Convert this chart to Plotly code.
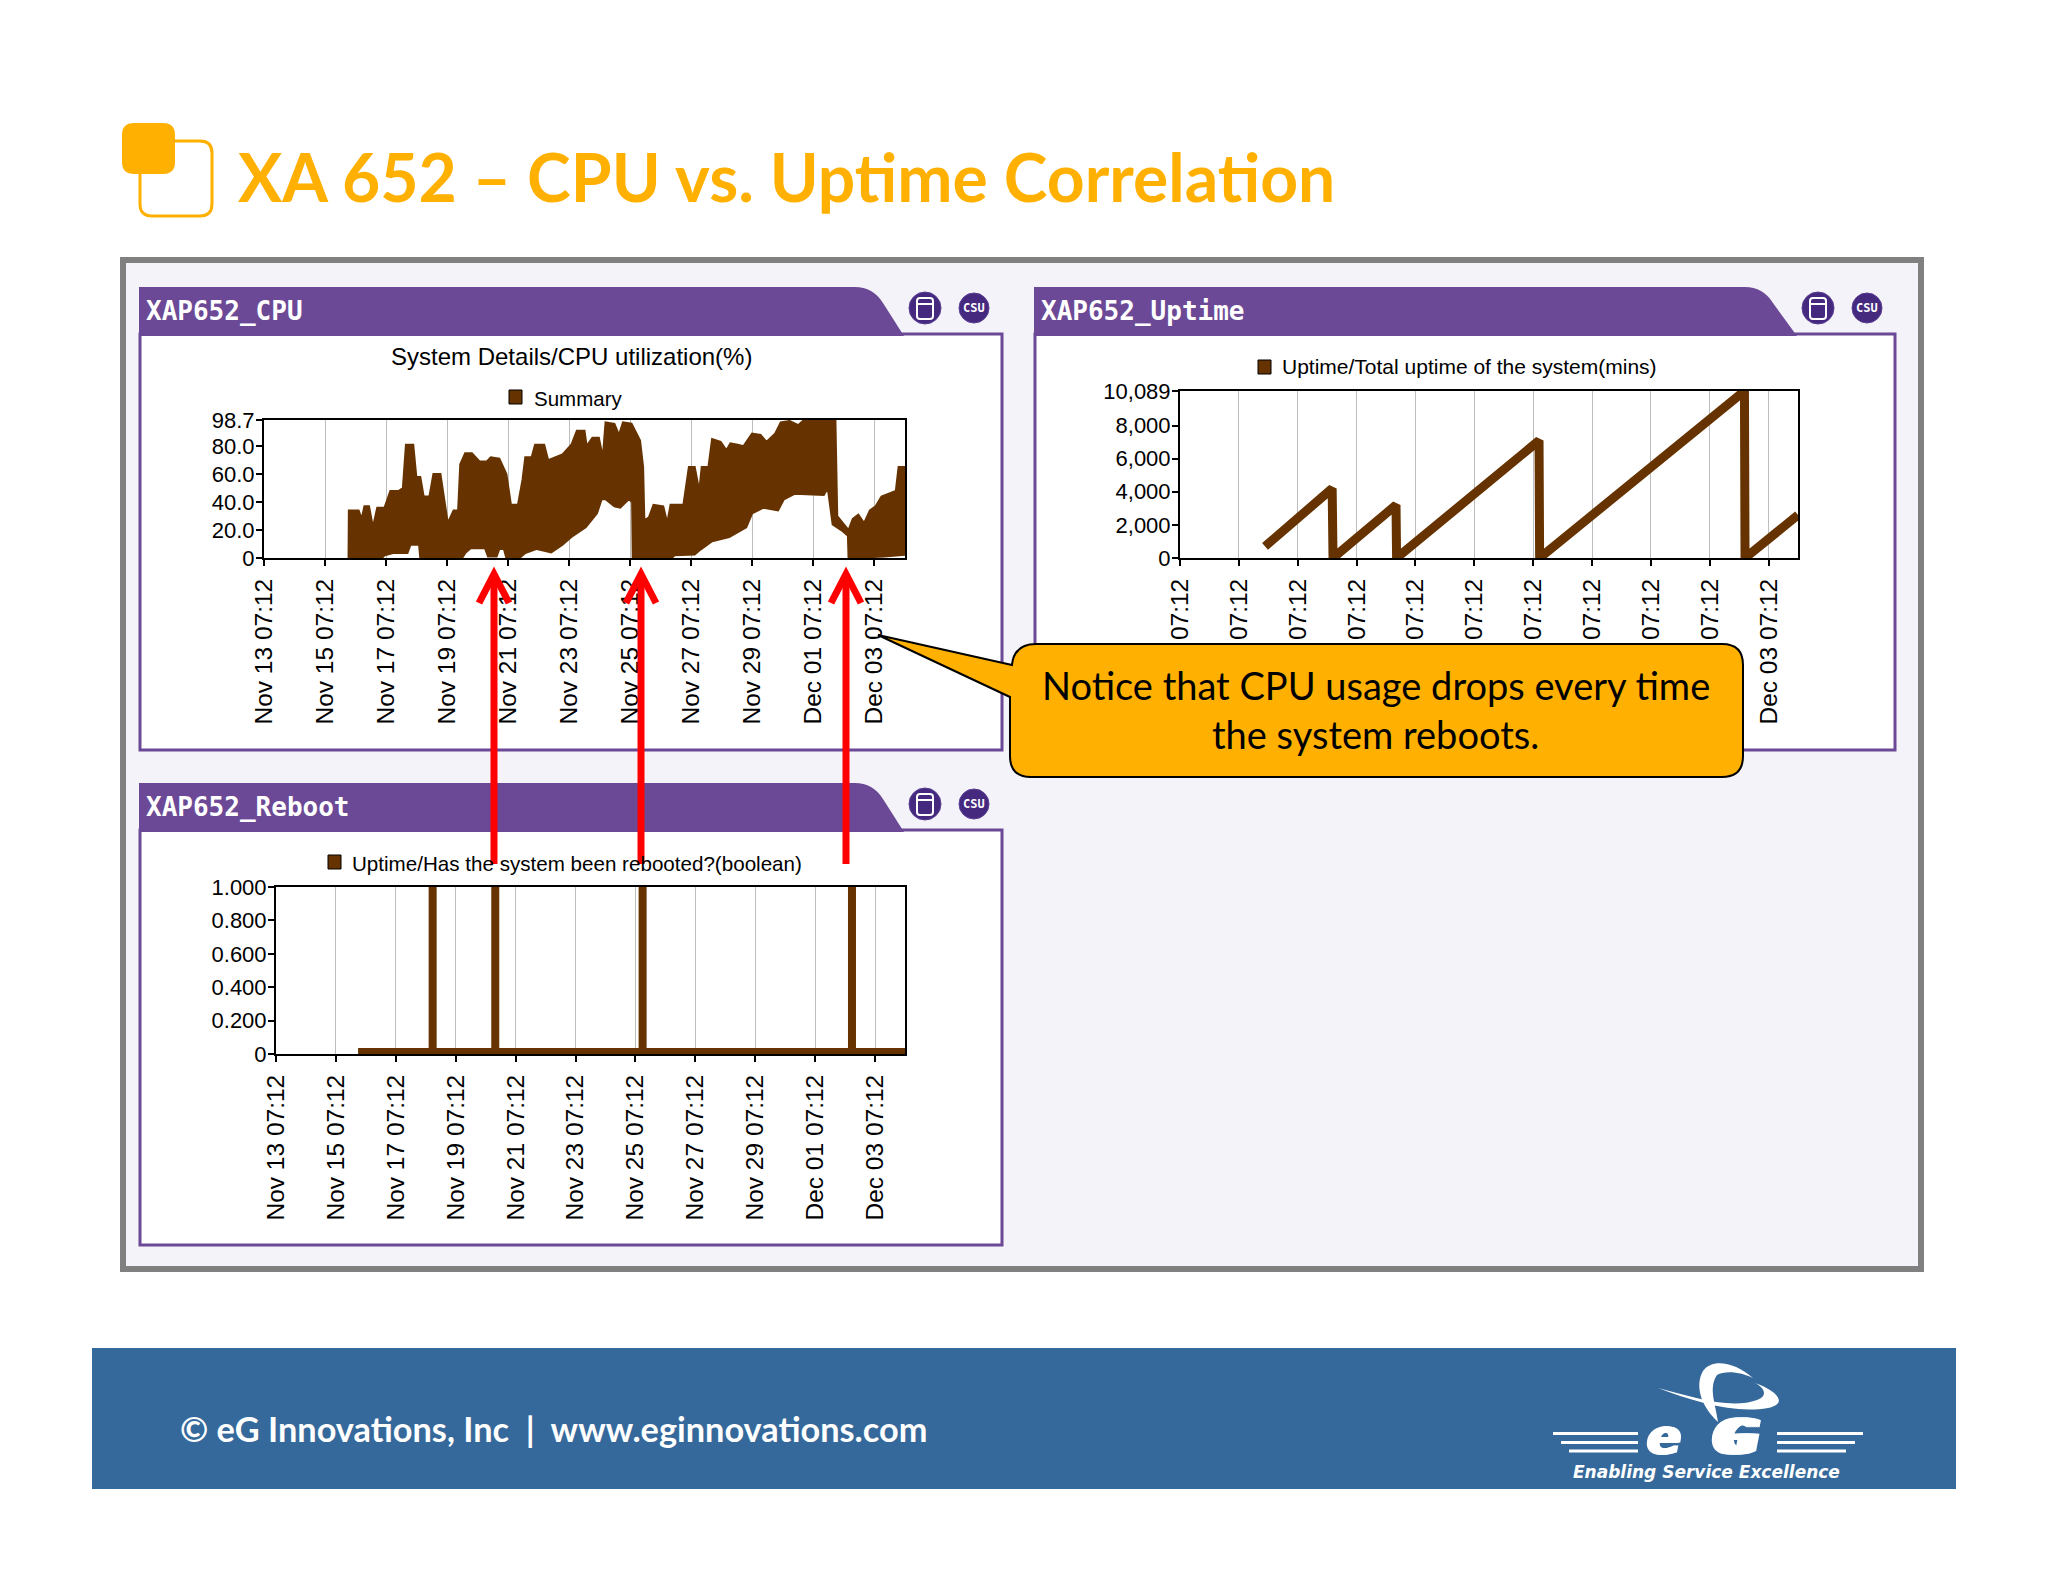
import plotly.graph_objects as go
import pandas as pd

W, H = 2048, 1582
# the page keeps its 8px body margin, so the figure is 16px smaller and shifted
PAGE_MARGIN = 8
FIG_W, FIG_H = W - 2 * PAGE_MARGIN, H - 2 * PAGE_MARGIN
BROWN = "#663300"
PURPLE = "#6C4996"
ICON = "#45297F"
ORANGE = "#FFB000"
RED = "#FF0000"
BAND = "#36699B"

START = pd.Timestamp("2012-11-13 07:12")
tick_dates = ["2012-11-13 07:12", "2012-11-15 07:12", "2012-11-17 07:12", "2012-11-19 07:12",
              "2012-11-21 07:12", "2012-11-23 07:12", "2012-11-25 07:12", "2012-11-27 07:12",
              "2012-11-29 07:12", "2012-12-01 07:12", "2012-12-03 07:12"]
tick_labels = ["Nov 13 07:12", "Nov 15 07:12", "Nov 17 07:12", "Nov 19 07:12",
               "Nov 21 07:12", "Nov 23 07:12", "Nov 25 07:12", "Nov 27 07:12",
               "Nov 29 07:12", "Dec 01 07:12", "Dec 03 07:12"]

# days after Nov 13 07:12
cpu_high_days = [2.77, 2.78, 3.10, 3.20, 3.29, 3.44, 3.57, 3.71, 3.95, 4.14, 4.42, 4.55, 4.65, 4.89, 4.99,
                 5.12, 5.23, 5.42, 5.55, 5.78, 6.02, 6.21, 6.36, 6.43, 6.59, 6.81, 7.06, 7.30, 7.43, 7.71,
                 7.94, 8.09, 8.32, 8.47, 8.56, 8.77, 8.88, 9.18, 9.31, 9.78, 10.07, 10.25, 10.50, 10.57,
                 10.76, 10.97, 11.10, 11.19, 11.48, 11.63, 11.76, 12.04, 12.32, 12.42, 12.46, 12.61, 12.76,
                 13.08, 13.21, 13.32, 13.74, 13.92, 14.11, 14.26, 14.34, 14.56, 14.68, 14.96, 15.15, 15.28,
                 15.52, 15.71, 15.99, 16.27, 16.46, 16.75, 16.93, 17.22, 17.50, 17.69, 18.72, 18.78, 19.15,
                 19.29, 19.47, 19.66, 19.85, 20.04, 20.23, 20.60, 20.70, 20.79, 21.0]
cpu_high = [0, 34, 34, 28, 37, 37, 22, 36, 36, 48, 48, 50, 81, 81, 58,
            58, 44, 44, 60, 60, 25, 34, 34, 67, 75, 75, 69, 69, 72, 71,
            60, 38, 38, 56, 72, 72, 81, 81, 70, 74, 81, 91, 91, 80,
            86, 86, 72, 97, 96, 88, 97, 96, 84, 65, 27, 29, 38,
            37, 25, 38, 38, 65, 65, 48, 65, 65, 85, 83, 77, 82,
            81, 80, 89, 88, 83, 89, 97, 98, 95, 98.7, 98.7, 30, 20,
            28, 31, 25, 34, 37, 44, 47, 48, 65, 65]
cpu_low_days = [2.77, 3.86, 3.95, 4.23, 4.70, 4.80, 5.08, 5.12, 6.49, 6.59, 6.77, 7.24, 7.34, 7.62, 7.71,
                7.86, 7.94, 8.37, 8.56, 8.94, 9.41, 9.78, 10.07, 10.54, 10.91, 11.06, 11.19, 11.48, 11.67,
                11.95, 12.06, 12.08, 13.36, 13.45, 14.11, 14.30, 14.68, 15.24, 15.80, 15.99, 16.37, 16.84,
                17.03, 17.40, 18.34, 18.47, 18.63, 18.91, 19.13, 19.15, 20.32, 21.0]
cpu_low = [0, 0, 2, 3.5, 3.5, 9.5, 9.5, 0, 0, 3.5, 7, 7, 1, 1, 6.5,
           6.5, 0, 0, 3.5, 6.5, 4, 9.5, 15, 22, 32, 42, 42, 37, 36,
           42, 40, 0, 0, 2, 2.5, 6, 12, 15, 22, 32, 36, 34,
           42, 46, 45, 50, 24, 20, 16, 0, 1, 2.4]

uptime_days = [2.89, 5.17, 5.20, 7.34, 7.36, 12.20, 12.22, 19.18, 19.20, 21.0]
uptime_mins = [700, 4200, 0, 3200, 0, 7100, 0, 10089, 0, 2600]

reboot_days = [2.74, 5.23, 5.23, 5.23, 7.32, 7.32, 7.32, 12.24, 12.24, 12.24, 19.23, 19.23, 19.23, 21.0]
reboot_vals = [0.012, 0.012, 1, 0.012, 0.012, 1, 0.012, 0.012, 1, 0.012, 0.012, 1, 0.012, 0.012]


def to_dates(days):
    return [START + pd.Timedelta(days=d) for d in days]


def fx(x):
    return (x - PAGE_MARGIN) / FIG_W


def fy(y):
    return 1 - (y - PAGE_MARGIN) / FIG_H


def pth(*parts):
    """path string in paper fractions, tuples are page pixels"""
    out = []
    for p in parts:
        out.append(f"{fx(p[0]):.5f},{fy(p[1]):.5f}" if isinstance(p, tuple) else p)
    return " ".join(out)


def rounded(x0, y0, x1, y1, r):
    return pth("M", (x0 + r, y0), "L", (x1 - r, y0), "Q", (x1, y0), (x1, y0 + r),
               "L", (x1, y1 - r), "Q", (x1, y1), (x1 - r, y1),
               "L", (x0 + r, y1), "Q", (x0, y1), (x0, y1 - r),
               "L", (x0, y0 + r), "Q", (x0, y0), (x0 + r, y0), "Z")


shapes = []
notes = []


def add_path(path, fill=None, line=None, width=0, layer="below"):
    shapes.append(dict(type="path", path=path, xref="paper", yref="paper", layer=layer,
                       fillcolor=fill or "rgba(0,0,0,0)",
                       line=dict(color=line or "rgba(0,0,0,0)", width=width)))


def add_rect(x0, y0, x1, y1, fill=None, line=None, width=0, layer="below"):
    shapes.append(dict(type="rect", xref="paper", yref="paper", layer=layer,
                       x0=fx(x0), x1=fx(x1), y0=fy(y0), y1=fy(y1),
                       fillcolor=fill or "rgba(0,0,0,0)",
                       line=dict(color=line or "rgba(0,0,0,0)", width=width)))


def add_text(x, y, text, size, color="black", font="Liberation Sans", anchor="left", shadow=None):
    fnt = dict(size=size, color=color, family=font)
    if shadow:
        fnt["shadow"] = shadow
    notes.append(dict(x=fx(x), y=fy(y), xref="paper", yref="paper", text=text,
                      showarrow=False, xanchor=anchor, yanchor="middle", font=fnt))


def add_panel(x0, y0, x1, y1, head_bottom, title, tab_start, tab_end):
    add_rect(x0, head_bottom - 2, x1, y1, fill="white", line=PURPLE, width=3)
    add_path(pth("M", (x0 - 1, y0), "L", (tab_start, y0), "Q", (tab_start + 18, y0), (tab_start + 28, y0 + 16),
                 "L", (tab_end, head_bottom), "L", (x0 - 1, head_bottom), "Z"), fill=PURPLE)
    add_text(x0 + 4, (y0 + head_bottom) / 2 - 1, f"<b>{title}</b>", 26, color="white", font="DejaVu Sans Mono")
    # the two small round buttons
    cx1, cx2, cy = tab_end + 21, tab_end + 70, y0 + 21
    shapes.append(dict(type="circle", xref="paper", yref="paper", layer="below", fillcolor=ICON,
                       x0=fx(cx1 - 16), x1=fx(cx1 + 16), y0=fy(cy - 16), y1=fy(cy + 16),
                       line=dict(color="#5A3E92", width=1)))
    add_path(rounded(cx1 - 8, cy - 10, cx1 + 8, cy + 11, 3), line="white", width=2)
    add_path(pth("M", (cx1 - 8, cy - 4), "L", (cx1 + 8, cy - 4)), line="white", width=2)
    shapes.append(dict(type="circle", xref="paper", yref="paper", layer="below", fillcolor=ICON,
                       x0=fx(cx2 - 15), x1=fx(cx2 + 15), y0=fy(cy - 15), y1=fy(cy + 15),
                       line=dict(color="#5A3E92", width=1)))
    add_text(cx2, cy, "<b>CSU</b>", 12, color="white", font="DejaVu Sans Mono", anchor="center")


def add_legend(x0, y0, text_x, text_y, text, size):
    add_rect(x0, y0, x0 + 13, y0 + 14, fill=BROWN, line="black", width=1)
    add_text(text_x, text_y, text, size)


def add_arrow(x, tip, tail):
    add_path(pth("M", (x, tail), "L", (x, tip + 4)), line=RED, width=7, layer="above")
    add_path(pth("M", (x - 15, tip + 33), "L", (x, tip + 4), "L", (x + 15, tip + 33)),
             line=RED, width=7, layer="above")


fig = go.Figure()

# cpu band, low edge then high edge filled down to it
fig.add_trace(go.Scatter(x=to_dates(cpu_low_days), y=cpu_low, mode="lines", showlegend=False,
                         line=dict(color=BROWN, width=2), xaxis="x", yaxis="y"))
fig.add_trace(go.Scatter(x=to_dates(cpu_high_days), y=cpu_high, mode="lines", name="Summary", showlegend=False,
                         line=dict(color=BROWN, width=2), fill="tonexty", fillcolor=BROWN,
                         xaxis="x", yaxis="y"))
fig.add_trace(go.Scatter(x=to_dates(uptime_days), y=uptime_mins, mode="lines", showlegend=False,
                         line=dict(color=BROWN, width=9), xaxis="x2", yaxis="y2"))
fig.add_trace(go.Scatter(x=to_dates(reboot_days), y=reboot_vals, mode="lines", showlegend=False,
                         line=dict(color=BROWN, width=8), xaxis="x3", yaxis="y3"))

# slide furniture
add_rect(123, 260, 1921, 1269, fill="#F4F3F9", line="#808080", width=6)
add_path(rounded(140, 141, 212, 216, 12), fill="white", line=ORANGE, width=3)
add_path(rounded(122, 123, 175, 174, 12), fill=ORANGE)
add_text(236, 177, "<b>XA 652 – CPU vs. Uptime Correlation</b>", 66, color=ORANGE, font="Lato")

add_panel(140, 287, 1002, 750, 336, "XAP652_CPU", 855, 904)
add_panel(1035, 287, 1895, 750, 336, "XAP652_Uptime", 1745, 1797)
add_panel(140, 783, 1002, 1245, 832, "XAP652_Reboot", 855, 904)

add_text(571, 357, "System Details/CPU utilization(%)", 24, anchor="center")
add_legend(509, 390, 532, 398, "Summary", 20.5)
add_legend(1258, 360, 1280, 367, "Uptime/Total uptime of the system(mins)", 21)
add_legend(328, 855, 350, 863, "Uptime/Has the system been rebooted?(boolean)", 20.6)

# callout over the uptime panel
add_path(pth("M", (1036, 644), "L", (1722, 644), "Q", (1743, 644), (1743, 665),
             "L", (1743, 756), "Q", (1743, 777), (1722, 777),
             "L", (1031, 777), "Q", (1010, 777), (1010, 756),
             "L", (1010, 697), "L", (878, 635), "L", (1012, 665),
             "Q", (1014, 644), (1036, 644), "Z"),
         fill=ORANGE, line="black", width=2, layer="above")
add_text(1376, 685, "Notice that CPU usage drops every time", 38, font="Lato", anchor="center")
add_text(1375, 734, "the system reboots.", 38, font="Lato", anchor="center")

for ax in (494, 641, 846):
    add_arrow(ax, 570, 864)

# footer band and logo
add_rect(92, 1348, 1956, 1489, fill=BAND)
add_text(178, 1428, "<b>© eG Innovations, Inc  |  www.eginnovations.com</b>", 34.3, color="white", font="Lato")
for y0, left, right in [(1433.5, 1553, 1863), (1442.5, 1561, 1855), (1451, 1569, 1846)]:
    add_rect(left, y0 - 1.5, 1638, y0 + 1.5, fill="white")
    add_rect(1777, y0 - 1.5, right, y0 + 1.5, fill="white")
add_path(pth("M", (1753, 1378), "C", (1735, 1362), (1712, 1358), (1703, 1371),
             "C", (1695, 1385), (1700, 1405), (1718, 1422),
             "C", (1716, 1405), (1708, 1388), (1717, 1375),
             "C", (1725, 1370), (1742, 1372), (1753, 1378), "Z"), fill="white")
add_path(pth("M", (1658, 1388), "C", (1690, 1396), (1730, 1410), (1757, 1400),
             "C", (1768, 1396), (1765, 1388), (1755, 1383),
             "C", (1775, 1390), (1790, 1403), (1768, 1408),
             "C", (1735, 1414), (1695, 1402), (1658, 1388), "Z"), fill="white")
add_text(1664, 1437, "<b><i>e</i></b>", 50, color="white", font="DejaVu Sans", anchor="center",
         shadow="1px 0 0 white,-1px 0 0 white,2px 0 0 white,-2px 0 0 white")
add_text(1736, 1437, "<b><i>G</i></b>", 50, color="white", font="DejaVu Sans", anchor="center",
         shadow="2px 0 0 white,-2px 0 0 white,4px 0 0 white,-4px 0 0 white,6px 0 0 white,-6px 0 0 white")
add_text(1706, 1472, "<b><i>Enabling Service Excellence</i></b>", 17, color="white", font="DejaVu Sans", anchor="center")


def xaxis_style(left, right, anchor):
    return dict(domain=[fx(left), fx(right)], anchor=anchor, type="date",
                range=[START, START + pd.Timedelta(days=21)],
                tickmode="array", tickvals=tick_dates, ticktext=tick_labels, tickangle=-90,
                ticks="outside", ticklen=6, tickwidth=2, tickcolor="black",
                ticklabelstandoff=3,
                tickfont=dict(family="Liberation Sans", size=24.5, color="black"),
                showgrid=True, gridcolor="#BDBDBD", gridwidth=1, zeroline=False,
                showline=True, linecolor="black", linewidth=2, mirror=True)


def yaxis_style(top, bottom, anchor, rng, vals, text):
    return dict(domain=[fy(bottom), fy(top)], anchor=anchor, range=rng,
                tickmode="array", tickvals=vals, ticktext=text,
                ticks="outside", ticklen=6, tickwidth=2, tickcolor="black",
                ticklabelstandoff=-3,
                tickfont=dict(family="Liberation Sans", size=22, color="black"),
                showgrid=False, zeroline=False,
                showline=True, linecolor="black", linewidth=2, mirror=True)


cpu_ticks = [0, 20, 40, 60, 80, 98.7]
cpu_tick_text = ["0", "20.0", "40.0", "60.0", "80.0", "98.7"]
uptime_ticks = [0, 2000, 4000, 6000, 8000, 10089]
uptime_tick_text = ["0", "2,000", "4,000", "6,000", "8,000", "10,089"]
reboot_ticks = [0, 0.2, 0.4, 0.6, 0.8, 1.0]
reboot_tick_text = ["0", "0.200", "0.400", "0.600", "0.800", "1.000"]

fig.update_layout(
    width=FIG_W, height=FIG_H, autosize=False,
    margin=dict(l=0, r=0, t=0, b=0, autoexpand=False),
    paper_bgcolor="white", plot_bgcolor="rgba(0,0,0,0)",
    showlegend=False,
    shapes=shapes, annotations=notes,
    xaxis=xaxis_style(264, 905, "y"),
    yaxis=yaxis_style(420, 558, "x", [0, 98.7], cpu_ticks, cpu_tick_text),
    xaxis2=xaxis_style(1180, 1798, "y2"),
    yaxis2=yaxis_style(391, 558, "x2", [0, 10089], uptime_ticks, uptime_tick_text),
    xaxis3=xaxis_style(276, 905, "y3"),
    yaxis3=yaxis_style(887, 1054, "x3", [0, 1], reboot_ticks, reboot_tick_text),
)

fig.write_html("out.html")
